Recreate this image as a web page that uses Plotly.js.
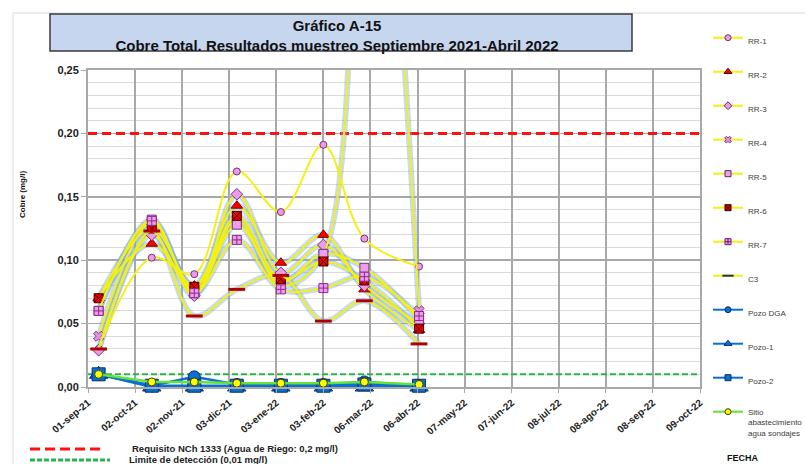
<!DOCTYPE html>
<html>
<head>
<meta charset="utf-8">
<script src="https://cdn.plot.ly/plotly-3.0.1.min.js"></script>
<style>html,body{margin:0;padding:0;background:#fff;}#chart{width:805px;height:464px;}</style>
</head>
<body>
<div id="chart"></div>
<script>
// ---- data ----
var sampleDates = ['2021-09-08','2021-10-13','2021-11-10','2021-12-08','2022-01-06','2022-02-03','2022-03-02','2022-04-07'];
var rr1 = [0.030, 0.102, 0.089, 0.170, 0.138, 0.191, 0.117, 0.095];
var rr2 = [0.070, 0.113, 0.080, 0.143, 0.098, 0.120, 0.077, 0.045];
var rr3 = [0.029, 0.120, 0.072, 0.152, 0.090, 0.112, 0.080, 0.050];
var rr4 = [0.040, 0.130, 0.076, 0.132, 0.080, 0.105, 0.600, 0.060];
var rr5 = [0.060, 0.132, 0.074, 0.128, 0.083, 0.105, 0.094, 0.053];
var rr6 = [0.070, 0.125, 0.079, 0.135, 0.085, 0.099, 0.084, 0.046];
var rr7 = [0.060, 0.131, 0.074, 0.116, 0.077, 0.078, 0.087, 0.056];
var c3  = [0.030, 0.123, 0.056, 0.077, 0.088, 0.052, 0.068, 0.034];
var pozoDGA = [0.010, 0.001, 0.008, 0.002, 0.002, 0.002, 0.004, 0.001];
var pozo1   = [0.010, 0.000, 0.000, 0.000, 0.000, 0.000, 0.000, 0.000];
var pozo2   = [0.010, 0.001, 0.001, 0.001, 0.001, 0.001, 0.002, 0.001];
var sitio   = [0.010, 0.004, 0.004, 0.003, 0.003, 0.003, 0.004, 0.002];

var seriesNames = ['RR-1','RR-2','RR-3','RR-4','RR-5','RR-6','RR-7','C3','Pozo DGA','Pozo-1','Pozo-2','Sitio<br>abastecimiento<br>agua sondajes'];

var tickDates  = ['2021-09-01','2021-10-02','2021-11-02','2021-12-03','2022-01-03','2022-02-03','2022-03-06','2022-04-06','2022-05-07','2022-06-07','2022-07-08','2022-08-08','2022-09-08','2022-10-09'];
var tickLabels = ['01-sep-21','02-oct-21','02-nov-21','03-dic-21','03-ene-22','03-feb-22','06-mar-22','06-abr-22','07-may-22','07-jun-22','08-jul-22','08-ago-22','08-sep-22','09-oct-22'];

var limitX = ['2021-09-01','2022-10-09'];
var requisito = [0.2, 0.2];
var deteccion = [0.01, 0.01];

// ---- traces ----
var YEL = '#f4f012';
var GLOW = 'rgba(120,170,235,0.42)';
var BLUE = '#0a6fd0', BLUEL = '#06306a';
var traces = [];

traces.push({x: limitX, y: requisito, mode:'lines', line:{color:'#ff1010', width:3, dash:'9px,5px'}, showlegend:false, hoverinfo:'skip'});
traces.push({x: limitX, y: deteccion, mode:'lines', line:{color:'#2ab34a', width:2, dash:'6px,3px'}, showlegend:false, hoverinfo:'skip'});

[rr2, rr3, rr4, rr5, rr6, rr7, c3].forEach(function(s){
  traces.push({x: sampleDates, y: s, mode:'lines', line:{color:GLOW, width:6, shape:'spline', smoothing:1}, showlegend:false, hoverinfo:'skip'});
});

var yelSeries = [rr1, rr2, rr3, rr4, rr5, rr6, rr7, c3];
var plotMarkers = [
  {symbol:'circle', size:7, color:'#ee99ee', line:{color:'#6a3a6a', width:1}},
  {symbol:'triangle-up', size:10, color:'#ff0000', line:{color:'#7a0000', width:1}},
  {symbol:'diamond', size:9, color:'#ee99ee', line:{color:'#6a3a6a', width:1}},
  {symbol:'x', size:9, color:'#e38fe3', line:{color:'#7a3a8a', width:1}},
  {symbol:'square', size:9, color:'#f09cf0', line:{color:'#6a3a6a', width:1}},
  {symbol:'square-x', size:9, color:'#ee0000', line:{color:'#400000', width:1}},
  {symbol:'square-cross', size:9, color:'#f09cf0', line:{color:'#8a2a8a', width:1}},
  {symbol:'line-ew', size:12, color:'#b00000', line:{color:'#b00000', width:3}}
];
yelSeries.forEach(function(s, i){
  traces.push({x: sampleDates, y: s, mode:'lines+markers', showlegend:false,
    line:{color:YEL, width:2, shape:'spline', smoothing:1}, marker: plotMarkers[i]});
});

var pozoSeries = [pozoDGA, pozo1, pozo2];
var pozoMarkers = [
  {symbol:'circle', size:12, color:BLUE, line:{color:BLUEL, width:1}},
  {symbol:'triangle-up', size:16, color:BLUE, line:{color:BLUEL, width:1}},
  {symbol:'square', size:13, color:BLUE, line:{color:BLUEL, width:1}}
];
pozoSeries.forEach(function(s, i){
  traces.push({x: sampleDates, y: s, mode:'lines+markers', showlegend:false, cliponaxis:false,
    line:{color:BLUE, width:2.5}, marker: pozoMarkers[i]});
});
traces.push({x: sampleDates, y: sitio, mode:'lines+markers', showlegend:false, cliponaxis:false,
  line:{color:'#66e03a', width:2.5}, marker:{symbol:'circle', size:8, color:'#ffff00', line:{color:'#404000', width:1}}});

// legend entries (small symbols as in the reference legend)
var legendStyle = [
  {lc:YEL, m:{symbol:'circle', size:6, color:'#ee99ee', line:{color:'#6a3a6a', width:1}}},
  {lc:YEL, m:{symbol:'triangle-up', size:7, color:'#ee0000', line:{color:'#5a0000', width:1}}},
  {lc:YEL, m:{symbol:'diamond', size:6, color:'#ee99ee', line:{color:'#5a2a5a', width:1}}},
  {lc:YEL, m:{symbol:'x', size:6, color:'#e38fe3', line:{color:'#7a3a8a', width:1}}},
  {lc:YEL, m:{symbol:'square', size:6, color:'#f09cf0', line:{color:'#5a2a5a', width:1}}},
  {lc:YEL, m:{symbol:'square-x', size:6, color:'#ee0000', line:{color:'#300000', width:1}}},
  {lc:YEL, m:{symbol:'square-cross', size:6, color:'#f09cf0', line:{color:'#6a1a6a', width:1}}},
  {lc:YEL, m:{symbol:'line-ew', size:8, color:'#303030', line:{color:'#303030', width:2}}},
  {lc:BLUE, m:{symbol:'circle', size:6, color:BLUE, line:{color:BLUEL, width:1}}},
  {lc:BLUE, m:{symbol:'triangle-up', size:7, color:BLUE, line:{color:BLUEL, width:1}}},
  {lc:BLUE, m:{symbol:'square', size:6, color:BLUE, line:{color:BLUEL, width:1}}},
  {lc:'#66e03a', m:{symbol:'circle', size:6, color:'#ffff00', line:{color:'#404000', width:1}}}
];
seriesNames.forEach(function(n, i){
  traces.push({x:[null], y:[null], name:n, legendgroup:'g'+i, mode:'lines+markers',
    line:{color:legendStyle[i].lc, width:2}, marker:legendStyle[i].m});
});

// ---- layout ----
var L = 88, R = 700, T = 70, B = 387;
function px(x){ return (x - L)/(R - L); }
function py(y){ return (B - y)/(B - T); }
var FONT = 'Liberation Sans, Arial, sans-serif';

var layout = {
  width: 805, height: 464,
  margin: {l: L, r: 805 - R, t: T, b: 464 - B, pad: 0, autoexpand: false},
  paper_bgcolor: '#ffffff', plot_bgcolor: '#ffffff',
  separators: ',.',
  font: {family: FONT, color: '#222'},
  title: {text: 'Gráfico A-15<br>Cobre Total. Resultados muestreo Septiembre 2021-Abril 2022',
    font: {family: FONT, size: 15, weight: 'bold', color: '#111'},
    x: 337/805, xanchor: 'center', y: 1 - 31/464, yanchor: 'middle'},
  xaxis: {type: 'date', range: limitX, tickmode: 'array', tickvals: tickDates, ticktext: tickLabels,
    tickangle: -40, tickfont: {family: FONT, size: 10, weight: 'bold', color: '#222'},
    showgrid: true, gridcolor: '#a8a8a8', gridwidth: 2, zeroline: false,
    showline: true, linecolor: '#a8a8a8', linewidth: 2, mirror: true,
    ticks: 'outside', ticklen: 4, tickcolor: '#a8a8a8'},
  yaxis: {range: [0, 0.25], tick0: 0, dtick: 0.05, tickformat: '.2f',
    tickfont: {family: FONT, size: 11, weight: 'bold', color: '#222'},
    showgrid: true, gridcolor: '#a8a8a8', gridwidth: 1.5, zeroline: false,
    minor: {dtick: 0.01, showgrid: true, gridcolor: '#dadada', gridwidth: 1},
    showline: true, linecolor: '#a8a8a8', linewidth: 2, mirror: true,
    ticks: 'outside', ticklen: 5, tickcolor: '#a8a8a8'},
  legend: {x: px(708), xanchor: 'left', y: py(26), yanchor: 'top', traceorder: 'grouped', tracegroupgap: 15,
    maxheight: 450, font: {family: FONT, size: 8, color: '#404040'}, bgcolor: 'rgba(0,0,0,0)', valign: 'top'},
  showlegend: true,
  shapes: [
    {type: 'rect', xref: 'paper', yref: 'paper', x0: px(13), x1: px(820), y0: py(13), y1: py(480),
      line: {color: '#d9d9d9', width: 1}, fillcolor: 'rgba(0,0,0,0)', layer: 'below'},
    {type: 'rect', xref: 'paper', yref: 'paper', x0: px(50), x1: px(632), y0: py(51), y1: py(14),
      line: {color: '#3a3a3a', width: 1.5}, fillcolor: '#c6d6ef', layer: 'below'},
    {type: 'line', xref: 'paper', yref: 'paper', x0: px(30), x1: px(105), y0: py(449), y1: py(449),
      line: {color: '#ff1010', width: 3, dash: '10px,5px'}},
    {type: 'line', xref: 'paper', yref: 'paper', x0: px(30), x1: px(110), y0: py(460), y1: py(460),
      line: {color: '#2ab34a', width: 3, dash: '5px,2px'}}
  ],
  annotations: [
    {text: 'Cobre (mg/l)', textangle: -90, xref: 'paper', yref: 'paper', x: px(22), y: py(195),
      xanchor: 'center', yanchor: 'middle', showarrow: false, font: {family: FONT, size: 8, weight: 'bold', color: '#111'}},
    {text: 'FECHA', xref: 'paper', yref: 'paper', x: px(725), y: py(458), xanchor: 'left', yanchor: 'middle',
      showarrow: false, font: {family: FONT, size: 9, weight: 'bold', color: '#111'}},
    {text: 'Requisito NCh 1333 (Agua de Riego: 0,2 mg/l)', xref: 'paper', yref: 'paper', x: px(130), y: py(448),
      xanchor: 'left', yanchor: 'middle', showarrow: false, font: {family: FONT, size: 9.5, weight: 'bold', color: '#222'}},
    {text: 'Limite de detección (0,01 mg/l)', xref: 'paper', yref: 'paper', x: px(127), y: py(459),
      xanchor: 'left', yanchor: 'middle', showarrow: false, font: {family: FONT, size: 9.5, weight: 'bold', color: '#222'}}
  ]
};

Plotly.newPlot('chart', traces, layout, {displayModeBar: false, staticPlot: true});
</script>
</body>
</html>
